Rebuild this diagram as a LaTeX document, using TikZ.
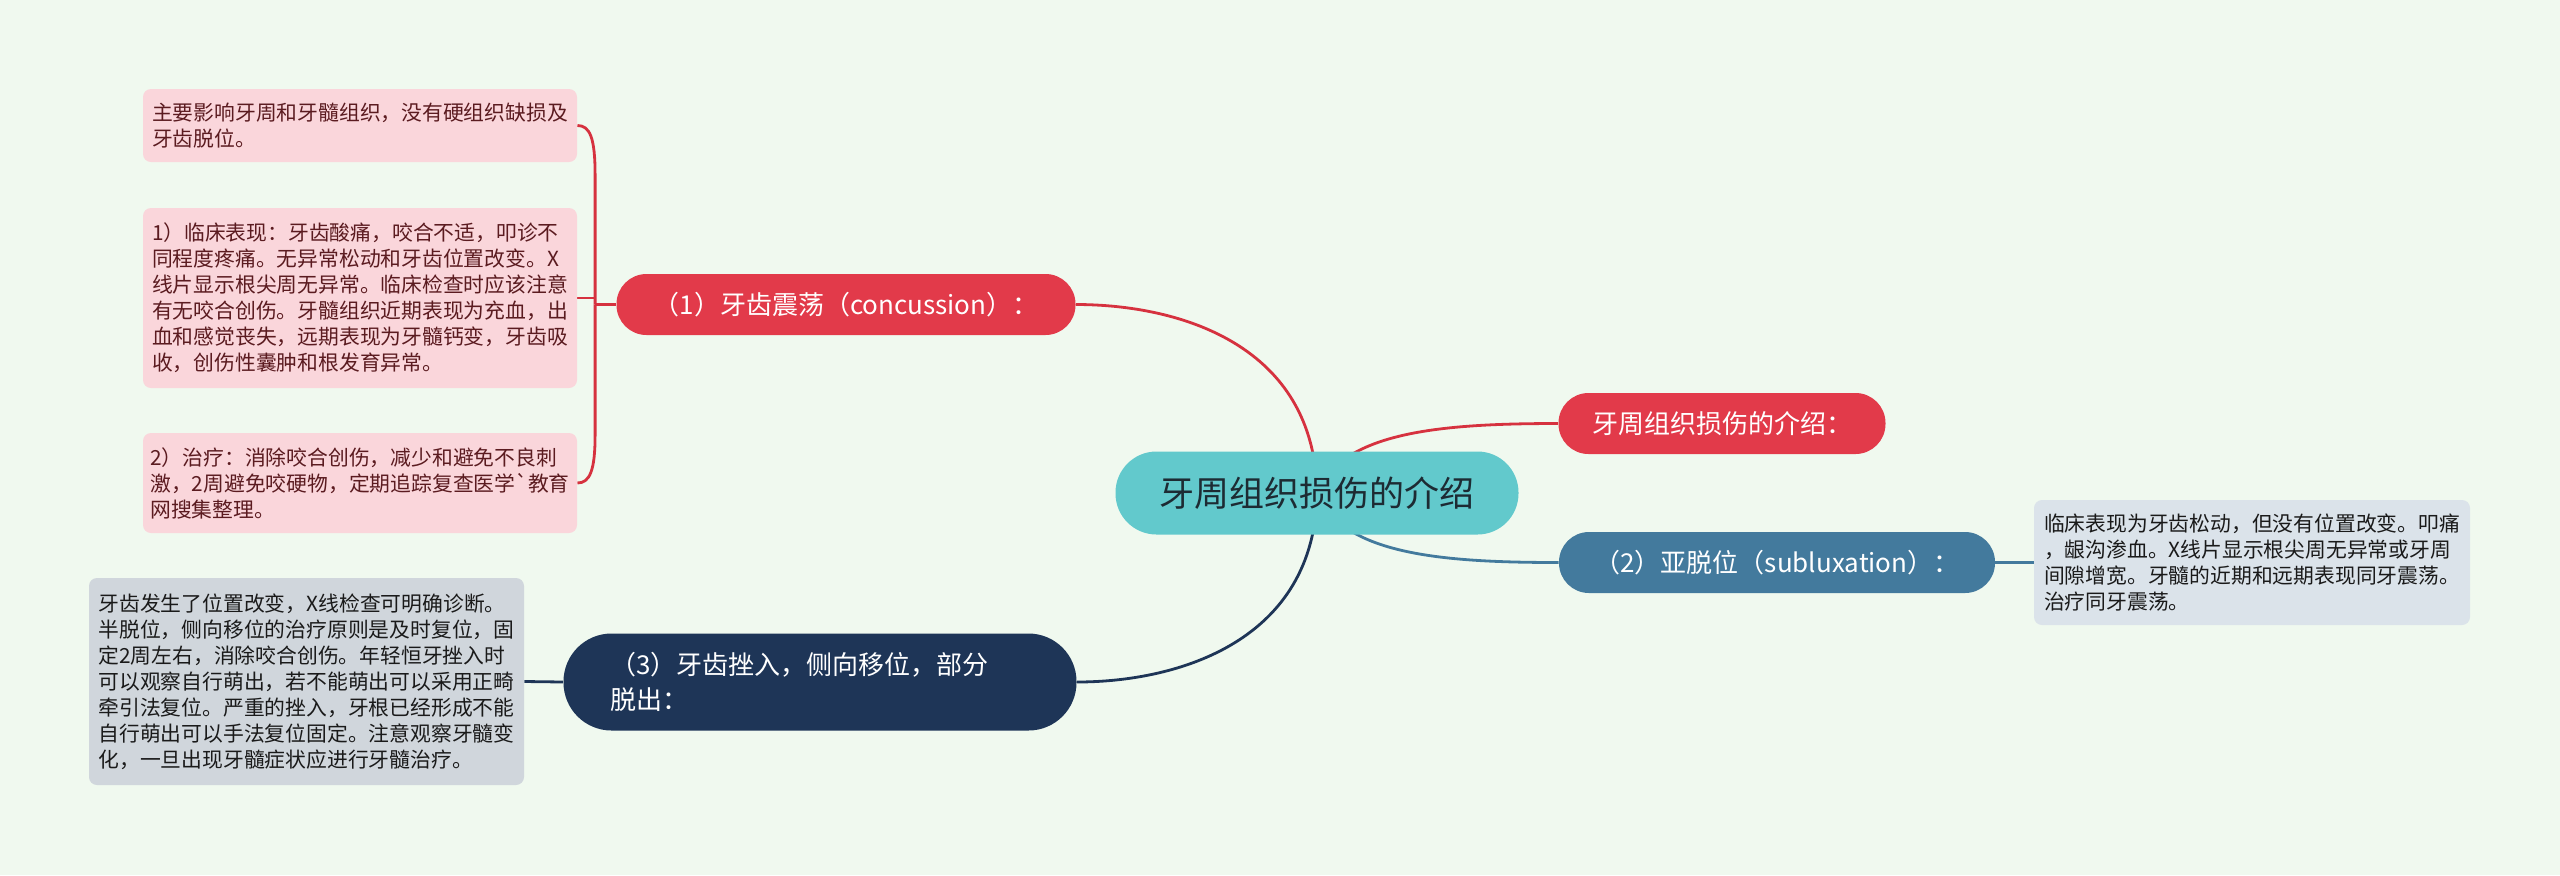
\documentclass[tikz,border=0pt]{standalone}
\usepackage{fontspec}
\setmainfont{Noto Sans CJK SC}[Ligatures=TeXOff]
\usetikzlibrary{backgrounds,calc}
\definecolor{bgc}{HTML}{F0F9EF}
\definecolor{rootfill}{HTML}{62C9CC}
\definecolor{roottext}{HTML}{1D2B33}
\definecolor{redfill}{HTML}{E23A4A}
\definecolor{redline}{HTML}{D6323F}
\definecolor{pinkfill}{HTML}{FAD6DB}
\definecolor{pinktext}{HTML}{5B1B20}
\definecolor{steelfill}{HTML}{437A9D}
\definecolor{navyfill}{HTML}{1E3557}
\definecolor{greyD}{HTML}{D0D6DC}
\definecolor{greyE}{HTML}{DBE3EA}
\definecolor{greytext}{HTML}{1A1A1A}
\tikzset{
  rootbox/.style={fill=rootfill, text=roottext, rounded corners=20.5pt, inner sep=0pt,
    minimum width=201.5pt, minimum height=41.5pt, font=\fontsize{17.5}{21}\selectfont},
  branchbox/.style={text=white, rounded corners=15pt, inner sep=0pt, minimum height=30.5pt,
    font=\fontsize{13}{17.5}\selectfont},
  leafbox/.style={rounded corners=4pt, inner sep=0pt, align=left,
    font=\fontsize{10.4}{13}\selectfont},
  pinkleaf/.style={leafbox, fill=pinkfill, text=pinktext, minimum width=217pt},
  greyleaf/.style={leafbox, text=greytext},
  conn/.style={line width=1.4pt},
}
\begin{document}
\begin{tikzpicture}[x=0.5pt,y=-0.5pt]
\useasboundingbox (0,0) rectangle (2560,875);
% nodes
\node[rootbox] (c) at (1317,493) {牙周组织损伤的介绍};
\node[branchbox, fill=redfill, minimum width=229.5pt] (conc) at (846,304.5) {（1）牙齿震荡（concussion）：};
\node[branchbox, fill=redfill, minimum width=163.5pt] (intro) at (1722,423.5) {牙周组织损伤的介绍：};
\node[branchbox, fill=steelfill, minimum width=218pt] (sub) at (1777,562.5) {（2）亚脱位（subluxation）：};
\node[branchbox, fill=navyfill, minimum width=256.5pt, minimum height=48.5pt, rounded corners=24pt,
  align=left, text width=210pt] (n3) at (820,682) {（3）牙齿挫入，侧向移位，部分\\脱出：};
\node[pinkleaf, minimum height=36.5pt] (A) at (360,125.5)
  {主要影响牙周和牙髓组织，没有硬组织缺损及\\牙齿脱位。};
\node[pinkleaf, minimum height=90pt] (B) at (360,298)
  {1）临床表现：牙齿酸痛，咬合不适，叩诊不\\同程度疼痛。无异常松动和牙齿位置改变。X\\线片显示根尖周无异常。临床检查时应该注意\\有无咬合创伤。牙髓组织近期表现为充血，出\\血和感觉丧失，远期表现为牙髓钙变，牙齿吸\\收，创伤性囊肿和根发育异常。};
\node[pinkleaf, minimum height=50pt] (C) at (360,483)
  {2）治疗：消除咬合创伤，减少和避免不良刺\\激，2周避免咬硬物，定期追踪复查医学`教育\\网搜集整理。};
\node[greyleaf, fill=greyD, minimum width=217.5pt, minimum height=103.5pt] (D) at (306.5,681.5)
  {牙齿发生了位置改变，X线检查可明确诊断。\\半脱位，侧向移位的治疗原则是及时复位，固\\定2周左右，消除咬合创伤。年轻恒牙挫入时\\可以观察自行萌出，若不能萌出可以采用正畸\\牵引法复位。严重的挫入，牙根已经形成不能\\自行萌出可以手法复位固定。注意观察牙髓变\\化，一旦出现牙髓症状应进行牙髓治疗。};
\node[greyleaf, fill=greyE, minimum width=218pt, minimum height=62.5pt] (E) at (2252,562.5)
  {临床表现为牙齿松动，但没有位置改变。叩痛\\，龈沟渗血。X线片显示根尖周无异常或牙周\\间隙增宽。牙髓的近期和远期表现同牙震荡。\\治疗同牙震荡。};
% background and connectors
\begin{scope}[on background layer]
\fill[bgc] (0,0) rectangle (2560,875);
\draw[conn, draw=redline] (c.center) .. controls (1315,345) and (1180,304.5) .. (conc.east);
\draw[conn, draw=redline] (c.center) .. controls (1342,432) and (1440,423.5) .. (intro.west);
\draw[conn, draw=steelfill] (c.center) .. controls (1342,554) and (1440,562.5) .. (sub.west);
\draw[conn, draw=navyfill] (c.center) .. controls (1315,640) and (1180,682) .. (n3.east);
\coordinate (j) at ($(conc.west)+(-21,0)$);
\draw[conn, draw=redline] (conc.west) -- (j);
\draw[conn, draw=redline] (j) -- (j |- 0,175) .. controls (j |- 0,138) and (590,125.5) .. (A.east);
\draw[conn, draw=redline] (j) -- (j |- 0,435) .. controls (j |- 0,470) and (590,483) .. (C.east);
\draw[conn, draw=redline] (B.east) -- (B.east -| j);
\draw[conn, draw=steelfill] (sub.east) -- (E.west);
\draw[conn, draw=navyfill] (n3.west) -- (D.east);
\end{scope}
\end{tikzpicture}
\end{document}
